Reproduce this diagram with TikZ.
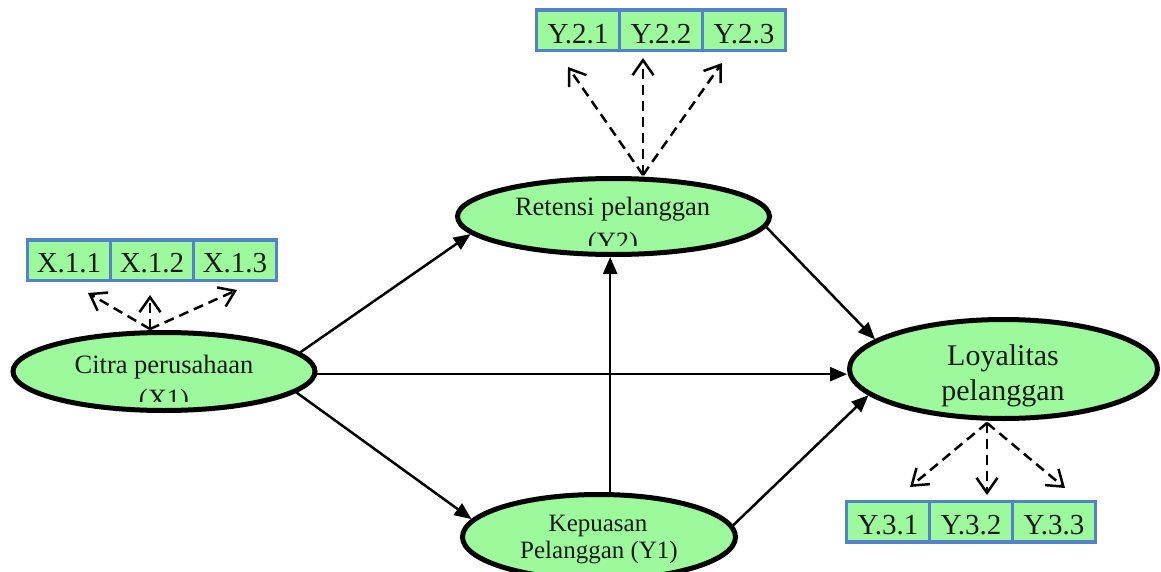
\documentclass[tikz,border=0pt]{standalone}
\usepackage{fontspec}
\setmainfont{Liberation Serif}
\usetikzlibrary{arrows.meta,shapes.geometric}
\definecolor{latfill}{RGB}{156,250,156}
\definecolor{boxblue}{RGB}{84,130,200}
\definecolor{txt}{RGB}{25,25,25}
\begin{document}
\begin{tikzpicture}[x=1pt,y=-1pt,
  latent/.style={ellipse, draw=black, line width=5pt, fill=latfill, inner sep=0pt},
  indic/.style={rectangle, draw=boxblue, line width=3.5pt, fill=latfill,
    minimum width=83pt, minimum height=40.5pt, inner sep=0pt,
    text height=25.5pt, text depth=0pt,
    font=\fontsize{29}{32}\selectfont, text=txt},
  lbl/.style={inner sep=0pt, anchor=base, text=txt},
  conn/.style={line width=2.5pt, -{Triangle[length=17pt,width=14pt]}},
  load/.style={line width=2.5pt, dash pattern=on 10pt off 6pt,
    -{Straight Barb[length=15pt,width=21pt]}}]
\useasboundingbox (0,0) rectangle (1161,572);
\clip (0,0) rectangle (1161,572);

% latent variables
\node[latent, minimum width=302pt, minimum height=78pt] (x1) at (164,371.5) {};
\node[latent, minimum width=312pt, minimum height=76pt] (y2) at (613.5,216.5) {};
\node[latent, minimum width=308pt, minimum height=99pt] (loy) at (1003.5,369) {};
\node[latent, minimum width=273pt, minimum height=85pt] (y1) at (599,537) {};

% labels inside the ellipses (lower lines cut by the text frame)
\begin{scope}
  \clip (0,300) rectangle (340,401.5);
  \node[lbl, font=\fontsize{26.5}{30}\selectfont] (x1a) at (164,373) {Citra perusahaan};
  \node[lbl, font=\fontsize{26.5}{30}\selectfont] (x1b) at (164,407) {(X1)};
\end{scope}
\begin{scope}
  \clip (440,150) rectangle (790,245);
  \node[lbl, font=\fontsize{26.5}{30}\selectfont] (y2a) at (612.5,215) {Retensi pelanggan};
  \node[lbl, font=\fontsize{26.5}{30}\selectfont] (y2b) at (613,250) {(Y2)};
\end{scope}
\node[lbl, font=\fontsize{30}{35}\selectfont] (loya) at (1003,365) {Loyalitas};
\node[lbl, font=\fontsize{30}{35}\selectfont] (loyb) at (1003,400) {pelanggan};
\node[lbl, font=\fontsize{25}{26}\selectfont] (y1a) at (598,531.7) {Kepuasan};
\node[lbl, font=\fontsize{25}{26}\selectfont] (y1b) at (599,558) {Pelanggan (Y1)};

% indicators
\node[indic] (x11) at (69,260) {X.1.1};
\node[indic] (x12) at (152,260) {X.1.2};
\node[indic] (x13) at (235,260) {X.1.3};
\node[indic] (y21) at (578,30.5) {Y.2.1};
\node[indic] (y22) at (661,30.5) {Y.2.2};
\node[indic] (y23) at (744,30.5) {Y.2.3};
\node[indic] (y31) at (888,521.5) {Y.3.1};
\node[indic] (y32) at (971,521.5) {Y.3.2};
\node[indic] (y33) at (1054,521.5) {Y.3.3};

% loading arrows
\coordinate (x1o) at (150,329);
\coordinate (x11t) at (88,293);
\coordinate (x12t) at (150,295);
\coordinate (x13t) at (237,290);
\coordinate (y2o) at (643,175);
\coordinate (y21t) at (568,67);
\coordinate (y22t) at (643,58);
\coordinate (y23t) at (722,63);
\coordinate (loyo) at (987,423);
\coordinate (y31t) at (910,487);
\coordinate (y32t) at (987,495);
\coordinate (y33t) at (1065,488);
\foreach \t in {x11t,x12t,x13t} \draw[load] (x1o) -- (\t);
\foreach \t in {y21t,y22t,y23t} \draw[load] (y2o) -- (\t);
\foreach \t in {y31t,y32t,y33t} \draw[load] (loyo) -- (\t);

% structural paths
\draw[conn] (x1.8) -- (y2.187);
\draw[conn] (x1.-1.7) -- (x1.-1.7 -| loy.west);
\draw[conn] (x1.-9.5) -- (y1.172.5);
\draw[conn] (y1.76) -- (y1.76 |- y2.south);
\draw[conn] (y2.-4.4) -- (loy.167.3);
\draw[conn] (y1.5) -- (loy.191.9);
\end{tikzpicture}
\end{document}
